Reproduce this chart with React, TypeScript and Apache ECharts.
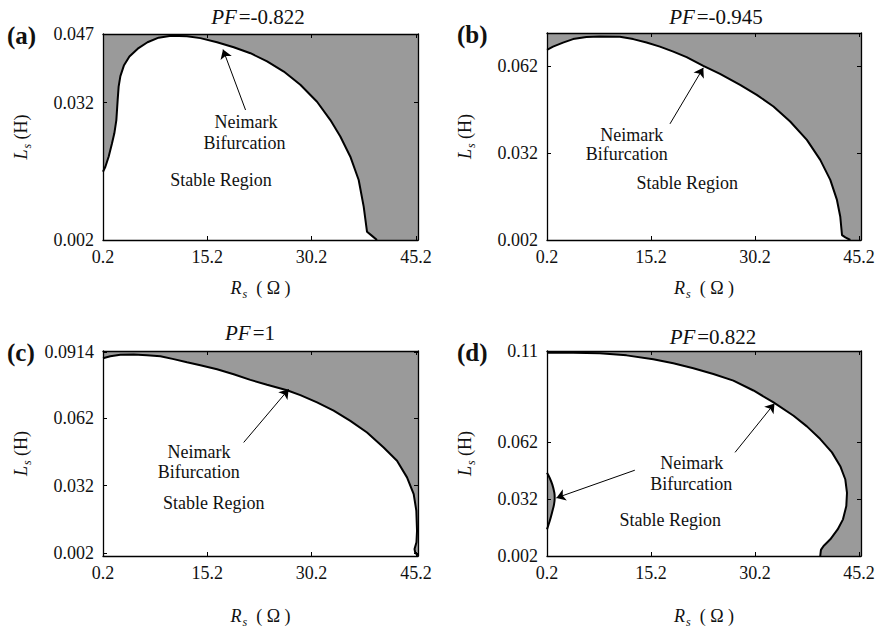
import React, { useEffect, useRef } from 'react';
import * as echarts from 'echarts';

// ---------- data ----------
const xTicks = [0.2, 15.2, 30.2, 45.2];
const panelLabels = ['(a)', '(b)', '(c)', '(d)'];
const pfValues = ['-0.822', '-0.945', '1', '0.822'];
const yTicksA = [0.002, 0.032, 0.047];
const yTicksB = [0.002, 0.032, 0.062];
const yTicksC = [0.002, 0.032, 0.062, 0.0914];
const yTicksD = [0.002, 0.032, 0.062, 0.11];

// Neimark bifurcation boundaries  [Rs (Ω), Ls (H)]
const boundaryA: number[][] = [
  [0.2, 0.0169], [0.54, 0.018], [1.01, 0.0202], [1.49, 0.0231], [1.83, 0.0253],
  [2.12, 0.0282], [2.31, 0.0326], [2.45, 0.0355], [2.7, 0.0378], [3.2, 0.0401],
  [4.0, 0.0421], [5.2, 0.0438], [6.6, 0.0452], [8.2, 0.0462], [10.0, 0.0466],
  [12.28, 0.0465], [14.2, 0.0461], [16.6, 0.0452], [19.0, 0.0441], [21.4, 0.0428],
  [23.8, 0.041], [26.2, 0.0388], [28.58, 0.0359], [30.98, 0.0322], [32.9, 0.0282],
  [34.33, 0.0246], [35.77, 0.0202], [36.97, 0.0151], [37.69, 0.0093], [38.17, 0.0038],
  [38.89, 0.0029], [39.6, 0.002],
];
const boundaryB: number[][] = [
  [0.2, 0.0675], [1.07, 0.0686], [2.51, 0.07], [3.96, 0.0712], [5.89, 0.0719],
  [7.81, 0.0721], [10.71, 0.072], [12.63, 0.0712], [14.56, 0.07], [16.49, 0.0686],
  [18.42, 0.0669], [20.34, 0.065], [22.75, 0.062], [25.16, 0.0592], [28.06, 0.0554],
  [30.46, 0.052], [32.87, 0.048], [35.28, 0.0428], [37.69, 0.0365], [39.62, 0.0296],
  [41.07, 0.0227], [42.03, 0.0158], [42.51, 0.01], [42.76, 0.0037], [43.24, 0.0029],
  [43.96, 0.002],
];
const boundaryC: number[][] = [
  [0.2, 0.0886], [1.25, 0.0895], [2.69, 0.0901], [4.61, 0.0902], [6.53, 0.0899],
  [8.45, 0.0895], [10.36, 0.0882], [12.28, 0.0868], [14.2, 0.0855], [16.6, 0.0837],
  [18.99, 0.0815], [21.39, 0.079], [23.79, 0.0768], [26.66, 0.0744], [28.58, 0.0722],
  [30.98, 0.069], [33.37, 0.0653], [35.77, 0.0608], [38.17, 0.0556], [40.56, 0.049],
  [42.48, 0.0431], [43.92, 0.0357], [44.88, 0.0283], [45.26, 0.0209], [45.36, 0.012],
  [45.28, 0.0069], [45.0, 0.0039], [45.1, 0.0022], [45.5, 0.001],
];
const boundaryD: number[][] = [
  [0.2, 0.1091], [3.96, 0.1091], [7.81, 0.1088], [11.67, 0.1077], [15.53, 0.1056],
  [18.42, 0.1035], [21.31, 0.1009], [24.2, 0.0979], [27.09, 0.0944], [29.98, 0.0892],
  [32.88, 0.0829], [35.77, 0.0759], [37.69, 0.0703], [39.62, 0.0636], [41.31, 0.0566],
  [42.51, 0.0493], [43.24, 0.0423], [43.48, 0.0353], [43.38, 0.0283], [42.9, 0.0213],
  [42.13, 0.016], [41.07, 0.0108], [40.1, 0.0073], [39.72, 0.0052], [39.62, 0.002],
];
const islandD: number[][] = [
  [0.2, 0.0458], [0.59, 0.0431], [0.97, 0.0396], [1.26, 0.0353], [1.31, 0.0326],
  [1.21, 0.0291], [0.92, 0.0248], [0.59, 0.0204], [0.2, 0.016],
];

// arrows: [tail, tip]
const arrowsA = [[[20.7, 0.0304], [17.46, 0.0436]]];
const arrowsB = [[[17.94, 0.042], [22.75, 0.0613]]];
const arrowsC = [[[20.43, 0.0512], [26.9, 0.0748]]];
const arrowsD = [
  [[27.33, 0.0566], [33.02, 0.0824]],
  [[12.87, 0.0472], [1.55, 0.0326]],
];

// ---------- styling / layout ----------
const FONT = "'Liberation Serif', 'Times New Roman', serif";
const GRAY = '#9a9a9a';
const X_MIN = 0.2;
const X_MAX = 45.5;

const panels = [
  { grid: { left: 103, top: 34, width: 315, height: 206 }, yMin: 0.002, yMax: 0.047, yTicks: yTicksA, boundary: boundaryA, arrows: arrowsA, nameGapX: 36,
    title: [258, 17], label: [7, 35], texts: [['Neimark', 246, 122], ['Bifurcation', 244.5, 143], ['Stable Region', 221, 180]] },
  { grid: { left: 547, top: 33, width: 314, height: 207 }, yMin: 0.002, yMax: 0.0733, yTicks: yTicksB, boundary: boundaryB, arrows: arrowsB, nameGapX: 36,
    title: [716, 17], label: [457, 34], texts: [['Neimark', 631.7, 135], ['Bifurcation', 626.7, 154], ['Stable Region', 687.3, 182.7]] },
  { grid: { left: 103, top: 351, width: 315, height: 205 }, yMin: 0.0008, yMax: 0.0918, yTicks: yTicksC, boundary: boundaryC, arrows: arrowsC, nameGapX: 48,
    title: [250, 333], label: [7, 352], texts: [['Neimark', 199, 451.7], ['Bifurcation', 198.7, 471.7], ['Stable Region', 213.8, 502.7]] },
  { grid: { left: 547, top: 351, width: 314, height: 206 }, yMin: 0.002, yMax: 0.11, yTicks: yTicksD, boundary: boundaryD, arrows: arrowsD, nameGapX: 48,
    title: [713, 336.7], label: [457, 352], texts: [['Neimark', 691.7, 463.3], ['Bifurcation', 691.2, 484], ['Stable Region', 670.3, 520]] },
];

const rich = {
  i: { fontFamily: FONT, fontStyle: 'italic', fontSize: 18, color: '#111' },
  s: { fontFamily: FONT, fontStyle: 'italic', fontSize: 12, color: '#111', padding: [12, 0, 0, 1] },
  n: { fontFamily: FONT, fontSize: 18, color: '#111' },
};

function buildOption() {
  const grids: any[] = [];
  const xAxes: any[] = [];
  const yAxes: any[] = [];
  const series: any[] = [];
  const graphics: any[] = [];

  panels.forEach((p, i) => {
    grids.push({ ...p.grid, show: true, backgroundColor: GRAY, borderWidth: 0 });
    const axisLine = { show: true, lineStyle: { color: '#000', width: 1.3 } };
    const tick = { inside: true, length: 4, lineStyle: { color: '#000', width: 1 } };
    xAxes.push({
      type: 'value', gridIndex: i, position: 'bottom', min: X_MIN, max: X_MAX, z: 5,
      axisLine, splitLine: { show: false },
      axisTick: { ...tick, customValues: xTicks },
      axisLabel: { customValues: xTicks, margin: 8, fontFamily: FONT, fontSize: 18, color: '#111', formatter: (v: number) => String(v) },
      name: '{i|R}{s|s}{n|  ( Ω )}', nameLocation: 'middle', nameGap: p.nameGapX,
      nameTextStyle: { rich },
    });
    xAxes.push({
      type: 'value', gridIndex: i, position: 'top', min: X_MIN, max: X_MAX, z: 5,
      axisLine, splitLine: { show: false },
      axisTick: { ...tick, customValues: xTicks },
      axisLabel: { show: false },
    });
    yAxes.push({
      type: 'value', gridIndex: i, position: 'left', min: p.yMin, max: p.yMax, z: 5,
      axisLine, splitLine: { show: false },
      axisTick: { ...tick, customValues: p.yTicks },
      axisLabel: { customValues: p.yTicks, margin: 9, fontFamily: FONT, fontSize: 18, color: '#111', formatter: (v: number) => String(v) },
      name: '{i|L}{s|s}{n| (H)}', nameLocation: 'middle', nameGap: 70, nameRotate: 90,
      nameTextStyle: { rich },
    });
    yAxes.push({
      type: 'value', gridIndex: i, position: 'right', min: p.yMin, max: p.yMax, z: 5,
      axisLine, splitLine: { show: false },
      axisTick: { ...tick, customValues: p.yTicks },
      axisLabel: { show: false },
    });

    const poly = [...p.boundary];
    const last = p.boundary[p.boundary.length - 1];
    if (last[0] >= X_MAX - 0.01) poly.push([X_MAX, p.yMin]);
    else poly.push([last[0], p.yMin]);
    poly.push([X_MIN, p.yMin]);

    series.push({
      type: 'custom', xAxisIndex: 2 * i, yAxisIndex: 2 * i, silent: true, z: 2,
      data: [[X_MIN, p.yMin]],
      renderItem: (_params: any, api: any) => ({
        type: 'polygon',
        shape: { points: poly.map((pt) => api.coord(pt)) },
        style: { fill: '#ffffff' },
      }),
    });

    if (i === 3) {
      series.push({
        type: 'custom', xAxisIndex: 2 * i, yAxisIndex: 2 * i, silent: true, z: 3,
        data: [[X_MIN, p.yMin]],
        renderItem: (_params: any, api: any) => ({
          type: 'polygon',
          shape: { points: islandD.map((pt) => api.coord(pt)) },
          style: { fill: GRAY },
        }),
      });
      series.push({
        type: 'line', xAxisIndex: 2 * i, yAxisIndex: 2 * i, silent: true, z: 4,
        data: islandD, showSymbol: false, symbol: 'none', smooth: 0.3,
        lineStyle: { color: '#000', width: 2 },
      });
    }

    series.push({
      type: 'line', xAxisIndex: 2 * i, yAxisIndex: 2 * i, silent: true, z: 4,
      data: p.boundary, showSymbol: false, symbol: 'none',
      lineStyle: { color: '#000', width: 2 },
      markLine: {
        silent: true, symbol: ['none', 'arrow'], symbolSize: 9,
        label: { show: false },
        lineStyle: { color: '#000', width: 1, type: 'solid' },
        emphasis: { disabled: true },
        data: p.arrows.map((a) => [{ coord: a[0] }, { coord: a[1] }]),
      },
    });

    graphics.push({
      type: 'text', x: p.title[0], y: p.title[1],
      style: {
        text: `{i|PF}{n|=${pfValues[i]}}`, align: 'center', verticalAlign: 'middle',
        rich: { i: { fontFamily: FONT, fontStyle: 'italic', fontSize: 21, fill: '#111', padding: [0, 2, 0, 0] }, n: { fontFamily: FONT, fontSize: 21, fill: '#111' } },
      },
    });
    graphics.push({
      type: 'text', x: p.label[0], y: p.label[1],
      style: { text: panelLabels[i], fontFamily: FONT, fontWeight: 'bold', fontSize: 25, fill: '#111', align: 'left', verticalAlign: 'middle' },
    });
    p.texts.forEach((t: any) => {
      graphics.push({
        type: 'text', x: t[1], y: t[2], z: 10,
        style: { text: t[0], fontFamily: FONT, fontSize: 18, fill: '#111', align: 'center', verticalAlign: 'middle' },
      });
    });
  });

  return {
    animation: false,
    backgroundColor: '#ffffff',
    grid: grids,
    xAxis: xAxes,
    yAxis: yAxes,
    series,
    graphic: graphics,
  };
}

export default function App() {
  const ref = useRef<HTMLDivElement>(null);
  useEffect(() => {
    document.body.style.margin = '0';
    const chart = echarts.init(ref.current!, null, { renderer: 'svg' });
    chart.setOption(buildOption() as any);
    return () => chart.dispose();
  }, []);
  return <div ref={ref} style={{ width: 878, height: 629 }} />;
}
